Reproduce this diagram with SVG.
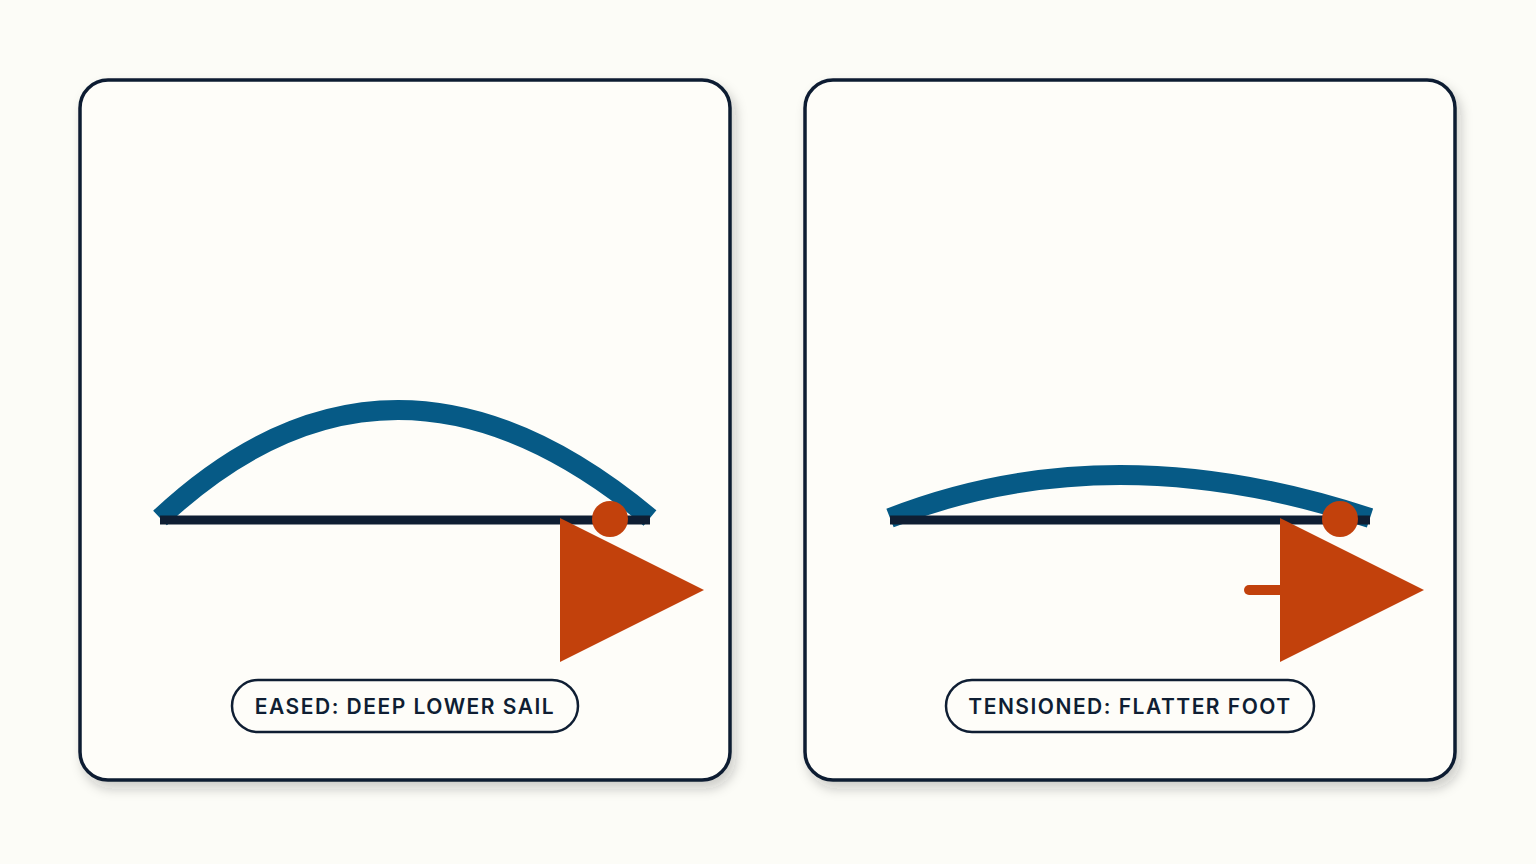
<svg xmlns="http://www.w3.org/2000/svg" width="1536" height="864" viewBox="0 0 1536 864">
<defs>
<filter id="sh" x="-10%" y="-10%" width="130%" height="130%">
<feDropShadow dx="4" dy="7" stdDeviation="6" flood-color="#1a2a2a" flood-opacity="0.22"/>
</filter>
<style>
.panel{fill:#fefdf9;stroke:#0f1e33;stroke-width:3.5}
.boom{stroke:#0f1e33;stroke-width:9;fill:none}
.sail{stroke:#065a86;stroke-width:20;fill:none}
.acc{fill:#c2410c}
.pill{fill:#fefdf9;stroke:#0f1e33;stroke-width:2.5}
.lbl{font-family:Inter,"Liberation Sans",sans-serif;font-size:21px;font-weight:600;fill:#0f1e33;letter-spacing:1.5px;text-anchor:middle}
</style>
</defs>
<rect width="1536" height="864" fill="#fcfcf7"/>
<g id="panel-eased">
<rect class="panel" x="80" y="80" width="650" height="700" rx="28" filter="url(#sh)"/>
<path class="sail" d="M160 518 Q391 302 650 518"/>
<line class="boom" x1="160" y1="520" x2="650" y2="520"/>
<circle class="acc" cx="610" cy="519" r="18"/>
<polygon class="acc" points="560,518 704,590 560,662"/>
<rect class="pill" x="232" y="680" width="346" height="52" rx="26"/>
<text class="lbl" x="405" y="714">EASED: DEEP LOWER SAIL</text>
</g>
<g id="panel-tensioned">
<rect class="panel" x="805" y="80" width="650" height="700" rx="28" filter="url(#sh)"/>
<path class="sail" d="M890 518 Q1110 432 1370 518"/>
<line class="boom" x1="890" y1="520" x2="1370" y2="520"/>
<circle class="acc" cx="1340" cy="519" r="18"/>
<line x1="1249" y1="590" x2="1282" y2="590" stroke="#c2410c" stroke-width="10" stroke-linecap="round"/>
<polygon class="acc" points="1280,518 1424,590 1280,662"/>
<rect class="pill" x="946" y="680" width="368" height="52" rx="26"/>
<text class="lbl" x="1130" y="714">TENSIONED: FLATTER FOOT</text>
</g>
<g id="connectors"></g>
</svg>
